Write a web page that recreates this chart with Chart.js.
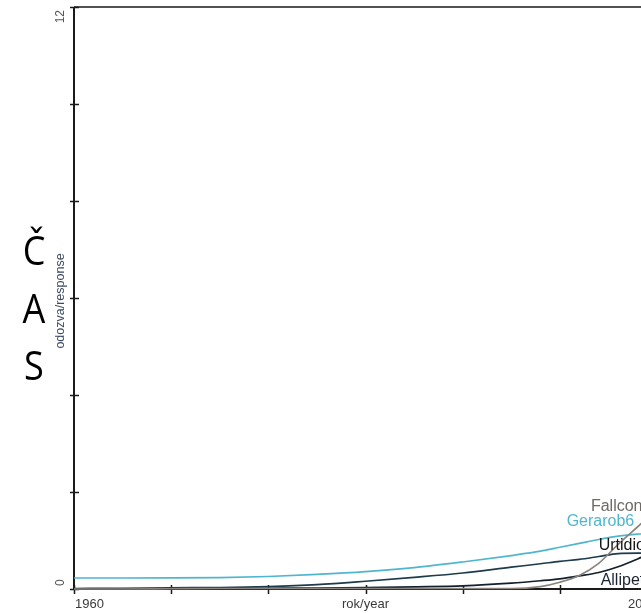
<!DOCTYPE html>
<html>
<head>
<meta charset="utf-8">
<script src="https://cdn.jsdelivr.net/npm/chart.js@4/dist/chart.umd.min.js"></script>
<style>
  html, body { margin: 0; padding: 0; background: #fff; overflow: hidden; width: 641px; height: 613px; }
  #wrap { position: relative; width: 641px; height: 613px; overflow: hidden; }
  #c { position: absolute; left: 0; top: 0; }
  #cas { position: absolute; left: 14px; top: 221px; width: 40px; text-align: center;
         font-family: "Open Sans", "Liberation Sans", sans-serif; font-size: 41px; line-height: 57.5px;
         color: #000; transform: scaleX(0.88); transform-origin: center top; }
</style>
</head>
<body>
<div id="wrap">
  <canvas id="c" width="760" height="613"></canvas>
  <div id="cas">Č<br>A<br>S</div>
</div>
<script>
// Years at which the fitted response curves are sampled
const years = [1960, 1965, 1970, 1975, 1980, 1985, 1990, 1995, 2000, 2005, 2008, 2010, 2012, 2014, 2016, 2018, 2020];

// Fitted responses per species
const fallconv = [0.0, 0.0, 0.005, 0.01, 0.01, 0.01, 0.01, 0.01, 0.01, 0.01, 0.05, 0.14, 0.28, 0.53, 0.92, 1.28, 1.65];
const gerarob6 = [0.227, 0.227, 0.228, 0.235, 0.258, 0.30, 0.357, 0.44, 0.557, 0.69, 0.78, 0.86, 0.94, 1.02, 1.09, 1.13, 1.15];
const urtidioi = [0.01, 0.015, 0.025, 0.03, 0.05, 0.09, 0.16, 0.24, 0.33, 0.45, 0.52, 0.57, 0.61, 0.67, 0.73, 0.74, 0.74];
const allipeti = [0.0, 0.0, 0.005, 0.01, 0.015, 0.02, 0.03, 0.045, 0.065, 0.12, 0.17, 0.21, 0.27, 0.34, 0.46, 0.62, 0.80];

// Species names and where their labels sit (year, response)
const speciesNames = ["Fallconv", "Gerarob6", "Urtidioi", "Allipeti"];
const labelYears = [2013.2, 2010.7, 2014.0, 2014.2];
const labelValues = [1.608, 1.299, 0.804, 0.082];

// Axis ticks and labels
const xTicks = [1960, 1970, 1980, 1990, 2000, 2010, 2020];
const xLabels = [[1960, "1960", "left"], [1990, "rok/year", "center"], [2020, "2020", "right"]];
const yTicks = [0, 2, 4, 6, 8, 10, 12];
const yLabels = [[0, "0", "left"], [12, "12", "right"]];
const yTitle = "odozva/response";

const colors = ["#8a847e", "#4fb6cf", "#1d3b4b", "#12202c"];
const labelColors = ["#6e6964", "#4fb6cf", "#151515", "#1a2533"];
const seriesList = [fallconv, gerarob6, urtidioi, allipeti];

const toPoints = vals => years.map((y, i) => ({ x: y, y: vals[i] }));

const axesPlugin = {
  id: 'axesPlugin',
  beforeDatasetsDraw(chart) {
    const { ctx, chartArea: a, scales: { x, y } } = chart;
    ctx.save();
    ctx.strokeStyle = '#1a1a1a';
    // top frame
    ctx.lineWidth = 1.5;
    ctx.beginPath();
    ctx.moveTo(a.left, a.top);
    ctx.lineTo(a.right, a.top);
    ctx.stroke();
    // left and bottom axes
    ctx.lineWidth = 2;
    ctx.beginPath();
    ctx.moveTo(a.left, a.top);
    ctx.lineTo(a.left, a.bottom);
    ctx.lineTo(a.right, a.bottom);
    ctx.stroke();
    // tick marks crossing the axes
    ctx.lineWidth = 1.5;
    ctx.beginPath();
    xTicks.forEach(t => {
      const px = Math.round(x.getPixelForValue(t)) + 0.5;
      ctx.moveTo(px, a.bottom - 4);
      ctx.lineTo(px, a.bottom + 5);
    });
    yTicks.forEach(t => {
      const py = Math.round(y.getPixelForValue(t)) + 0.5;
      ctx.moveTo(a.left - 4, py);
      ctx.lineTo(a.left + 5, py);
    });
    ctx.stroke();

    // x labels
    ctx.font = '13px "Liberation Sans", Arial, sans-serif';
    ctx.fillStyle = '#3a3a3a';
    ctx.textBaseline = 'alphabetic';
    xLabels.forEach(([v, txt, al]) => {
      ctx.textAlign = al;
      const px = x.getPixelForValue(v) + (al === 'left' ? 1 : 0);
      ctx.fillText(txt, px, a.bottom + 19);
    });

    // y labels (rotated)
    ctx.font = '12px "Liberation Sans", Arial, sans-serif';
    ctx.fillStyle = '#555';
    yLabels.forEach(([v, txt, al]) => {
      const py = y.getPixelForValue(v) + (al === 'left' ? -3 : 3);
      ctx.save();
      ctx.translate(a.left - 13, py);
      ctx.rotate(-Math.PI / 2);
      ctx.textAlign = al;
      ctx.textBaseline = 'middle';
      ctx.fillText(txt, 0, 0);
      ctx.restore();
    });

    // y title
    ctx.save();
    ctx.font = '12.5px "Liberation Sans", Arial, sans-serif';
    ctx.fillStyle = '#3e4a60';
    ctx.translate(a.left - 13, (a.top + a.bottom) / 2 + 3);
    ctx.rotate(-Math.PI / 2);
    ctx.textAlign = 'center';
    ctx.textBaseline = 'middle';
    ctx.fillText(yTitle, 0, 0);
    ctx.restore();
    ctx.restore();
  },
  afterDatasetsDraw(chart) {
    const { ctx, scales: { x, y } } = chart;
    ctx.save();
    ctx.font = '16px "Liberation Sans", Arial, sans-serif';
    ctx.textAlign = 'left';
    ctx.textBaseline = 'alphabetic';
    speciesNames.forEach((name, i) => {
      ctx.fillStyle = labelColors[i];
      ctx.fillText(name, x.getPixelForValue(labelYears[i]), y.getPixelForValue(labelValues[i]));
    });
    ctx.restore();
  }
};

new Chart(document.getElementById('c'), {
  type: 'line',
  data: {
    datasets: seriesList.map((vals, i) => ({
      label: speciesNames[i],
      data: toPoints(vals),
      borderColor: colors[i],
      borderWidth: 1.7,
      pointRadius: 0,
      fill: false,
      cubicInterpolationMode: 'monotone',
      clip: false
    }))
  },
  options: {
    responsive: false,
    animation: false,
    devicePixelRatio: 1,
    layout: { padding: { left: 74, top: 7, right: 103, bottom: 24 } },
    scales: {
      x: { type: 'linear', min: 1960, max: 2020, display: false },
      y: { type: 'linear', min: 0, max: 12, display: false }
    },
    plugins: { legend: { display: false }, tooltip: { enabled: false } }
  },
  plugins: [axesPlugin]
});
</script>
</body>
</html>
